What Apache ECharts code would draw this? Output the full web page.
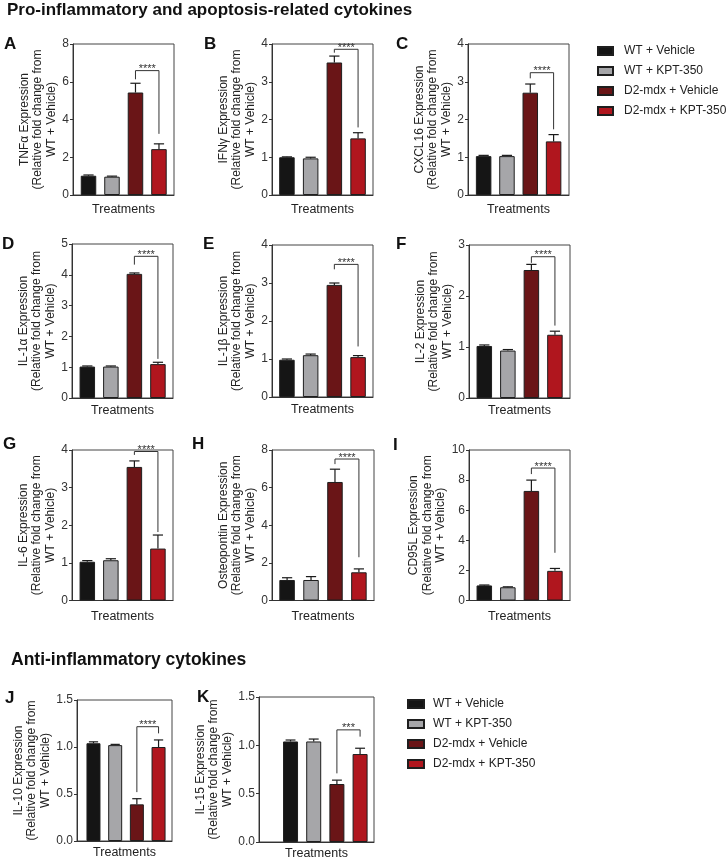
<!DOCTYPE html>
<html><head><meta charset="utf-8">
<script src="https://cdn.jsdelivr.net/npm/echarts@6/dist/echarts.min.js"></script>
<style>html,body{margin:0;padding:0;background:#fff}#c{width:726px;height:861px}</style>
</head><body><div id="c"></div>
<script>
// ---------------- DATA ----------------
const groups = ['WT + Vehicle', 'WT + KPT-350', 'D2-mdx + Vehicle', 'D2-mdx + KPT-350'];
const panelLetters = ['A', 'B', 'C', 'D', 'E', 'F', 'G', 'H', 'I', 'J', 'K'];
const panelTargets = ['TNFα', 'IFNγ', 'CXCL16', 'IL-1α', 'IL-1β', 'IL-2', 'IL-6', 'Osteopontin', 'CD95L', 'IL-10', 'IL-15'];
const axisMax  = [8, 4, 4, 5, 4, 3, 4, 8, 10, 1.5, 1.5];
const axisStep = [2, 1, 1, 1, 1, 1, 1, 2, 2, 0.5, 0.5];

const tnfaMean = [1.02, 0.97, 5.43, 2.43];  const tnfaSem = [0.04, 0.03, 0.49, 0.28];
const ifngMean = [1.00, 0.97, 3.51, 1.50];  const ifngSem = [0.01, 0.03, 0.17, 0.15];
const cxcl16Mean = [1.03, 1.03, 2.71, 1.42]; const cxcl16Sem = [0.02, 0.02, 0.23, 0.18];
const il1aMean = [1.02, 1.02, 4.03, 1.10];  const il1aSem = [0.02, 0.02, 0.03, 0.06];
const il1bMean = [0.98, 1.10, 2.95, 1.05];  const il1bSem = [0.02, 0.03, 0.05, 0.04];
const il2Mean  = [1.02, 0.93, 2.51, 1.24];  const il2Sem  = [0.02, 0.02, 0.11, 0.07];
const il6Mean  = [1.03, 1.07, 3.55, 1.38];  const il6Sem  = [0.03, 0.04, 0.16, 0.36];
const opnMean  = [1.09, 1.09, 6.30, 1.50];  const opnSem  = [0.12, 0.18, 0.68, 0.18];
const cd95lMean = [1.00, 0.88, 7.28, 1.97]; const cd95lSem = [0.03, 0.03, 0.72, 0.16];
const il10Mean = [1.04, 1.02, 0.39, 1.00];  const il10Sem = [0.015, 0.008, 0.06, 0.075];
const il15Mean = [1.04, 1.04, 0.60, 0.91];  const il15Sem = [0.015, 0.025, 0.04, 0.06];

const sigLabels    = ['****', '****', '****', '****', '****', '****', '****', '****', '****', '****', '***'];
const bracketLeft  = [6.13, 3.77, 3.09, 4.33, 3.36, 2.65, 3.87, 7.25, 8.4, 0.52, 0.71];
const bracketTop   = [6.59, 3.86, 3.24, 4.60, 3.49, 2.77, 3.96, 7.52, 8.8, 1.216, 1.16];
const bracketRight = [3.24, 1.79, 1.74, 1.27, 1.33, 1.42, 1.82, 2.30, 3.17, 1.145, 1.09];

const means = [tnfaMean, ifngMean, cxcl16Mean, il1aMean, il1bMean, il2Mean, il6Mean, opnMean, cd95lMean, il10Mean, il15Mean];
const sems  = [tnfaSem, ifngSem, cxcl16Sem, il1aSem, il1bSem, il2Sem, il6Sem, opnSem, cd95lSem, il10Sem, il15Sem];

// ---------------- LAYOUT / STYLE ----------------
const colors = ['#151515', '#a6a6a9', '#6a1517', '#b0161e'];
const FONT = '"Liberation Sans", Arial, Helvetica, sans-serif';
// [left, right, top, bottom] of each plot frame in px
const boxes = [
  [73, 174, 44, 195], [272, 373, 44, 195], [468, 569, 44, 195],
  [72, 173, 244, 398], [272, 373, 245, 397], [469, 570, 245, 398],
  [72, 173, 450, 600.5], [272, 374, 450, 600.5], [469, 570, 450, 600.5],
  [77, 172, 700, 841], [259, 374, 697, 842]
];
const xRanges = [
  [-0.66, 3.64], [-0.63, 3.63], [-0.67, 3.66],
  [-0.65, 3.64], [-0.63, 3.63], [-0.65, 3.64],
  [-0.65, 3.64], [-0.63, 3.63], [-0.65, 3.64],
  [-0.76, 3.62], [-1.36, 3.60]
];
const barPx = [15.5, 15.5, 15.5, 15.5, 15.5, 15.5, 15.5, 15.5, 15.5, 14, 15];
const xNameGap = [8, 8, 8, 6, 6, 6, 10, 10, 10, 5, 5];
const letterPos = [
  [4, 36], [204, 36], [396, 36],
  [2, 236], [203, 236], [396, 236],
  [3, 436], [192, 436], [393, 437],
  [5, 690], [197, 689]
];

const grids = [], xAxes = [], yAxes = [], series = [];
const titles = [
  { text: 'Pro-inflammatory and apoptosis-related cytokines', left: 7, top: 2, padding: 0,
    textStyle: { fontFamily: FONT, fontSize: 17, fontWeight: 'bold', color: '#111' } },
  { text: 'Anti-inflammatory cytokines', left: 11, top: 651, padding: 0,
    textStyle: { fontFamily: FONT, fontSize: 17.5, fontWeight: 'bold', color: '#111' } }
];

panelTargets.forEach((target, p) => {
  const [l, r, t, b] = boxes[p];
  grids.push({ left: l, top: t, width: r - l, height: b - t, show: true,
    borderColor: '#444', borderWidth: 1, backgroundColor: 'transparent' });
  const step = axisStep[p];
  xAxes.push({
    gridIndex: p, type: 'value', min: xRanges[p][0], max: xRanges[p][1],
    axisLine: { show: true, onZero: false, lineStyle: { color: '#333', width: 1 } },
    axisTick: { show: false }, axisLabel: { show: false }, splitLine: { show: false },
    name: 'Treatments', nameLocation: 'middle', nameGap: xNameGap[p],
    nameTextStyle: { fontFamily: FONT, fontSize: 12.5, color: '#222' }
  });
  yAxes.push({
    gridIndex: p, type: 'value', min: 0, max: axisMax[p], interval: step,
    axisLine: { show: true, onZero: false, lineStyle: { color: '#333', width: 1 } },
    axisTick: { show: true, length: 3, lineStyle: { color: '#333' } },
    axisLabel: { fontFamily: FONT, fontSize: 12, color: '#333', margin: 4,
      formatter: v => step < 1 ? v.toFixed(1) : String(v) },
    splitLine: { show: false },
    name: target + ' Expression\n(Relative fold change from\nWT + Vehicle)',
    nameLocation: 'middle', nameGap: 15,
    nameTextStyle: { fontFamily: FONT, fontSize: 12, lineHeight: 13.5, color: '#222' }
  });
  groups.forEach((g, i) => {
    series.push({
      type: 'bar', name: g, xAxisIndex: p, yAxisIndex: p,
      data: [[i, means[p][i]]], barWidth: barPx[p], barGap: '-100%',
      itemStyle: { color: colors[i], borderColor: '#1e1e1e', borderWidth: 1 },
      emphasis: { disabled: true }
    });
  });
  const capHalf = barPx[p] * 0.33;
  series.push({
    type: 'custom', xAxisIndex: p, yAxisIndex: p, z: 5, silent: true,
    data: means[p].map((m, i) => [i, m, sems[p][i]]),
    encode: { x: 0, y: 1 },
    renderItem: (params, api) => {
      const x = api.value(0), m = api.value(1), e = api.value(2);
      const p0 = api.coord([x, m]);
      const p1 = api.coord([x, m + e]);
      const st = { stroke: '#1a1a1a', lineWidth: 1.2 };
      return { type: 'group', children: [
        { type: 'line', shape: { x1: p0[0], y1: p0[1], x2: p1[0], y2: p1[1] }, style: st },
        { type: 'line', shape: { x1: p1[0] - capHalf, y1: p1[1], x2: p1[0] + capHalf, y2: p1[1] }, style: st }
      ] };
    }
  });
  series.push({
    type: 'custom', xAxisIndex: p, yAxisIndex: p, z: 6, silent: true,
    data: [[2, 3, bracketLeft[p], bracketTop[p], bracketRight[p]]],
    encode: { x: 0, y: 3 },
    renderItem: (params, api) => {
      const x1 = api.value(0), x2 = api.value(1);
      const a = api.coord([x1, api.value(2)]);
      const bb = api.coord([x1, api.value(3)]);
      const c = api.coord([x2, api.value(3)]);
      const d = api.coord([x2, api.value(4)]);
      return { type: 'group', children: [
        { type: 'polyline', shape: { points: [a, bb, c, d] }, style: { stroke: '#333', lineWidth: 1, fill: null } },
        { type: 'text', x: (bb[0] + c[0]) / 2, y: bb[1] + 4,
          style: { text: sigLabels[p], fontFamily: FONT, fontSize: 11, fill: '#333',
            align: 'center', verticalAlign: 'bottom' } }
      ] };
    }
  });
  titles.push({ text: panelLetters[p], left: letterPos[p][0], top: letterPos[p][1], padding: 0,
    textStyle: { fontFamily: FONT, fontSize: 17, fontWeight: 'bold', color: '#111' } });
});

const legendBase = {
  data: groups, orient: 'vertical', icon: 'rect', selectedMode: false,
  itemHeight: 8, itemGap: 8, padding: 0,
  textStyle: { fontFamily: FONT, fontSize: 12, color: '#222' }
};
const legends = [
  Object.assign({}, legendBase, { left: 597, top: 45, itemWidth: 15,
    textStyle: Object.assign({}, legendBase.textStyle, { padding: [0, 0, 0, 6] }) }),
  Object.assign({}, legendBase, { left: 407, top: 698, itemWidth: 16,
    textStyle: Object.assign({}, legendBase.textStyle, { padding: [0, 0, 0, 4] }) })
];

const chart = echarts.init(document.getElementById('c'), null, { renderer: 'canvas' });
chart.setOption({
  animation: false,
  backgroundColor: '#fff',
  textStyle: { fontFamily: FONT },
  title: titles,
  legend: legends,
  grid: grids,
  xAxis: xAxes,
  yAxis: yAxes,
  series: series
});
</script></body></html>
